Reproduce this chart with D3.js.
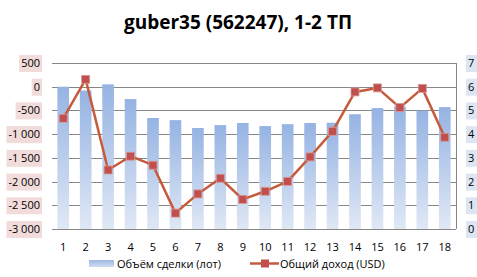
<!DOCTYPE html>
<html>
<head>
<meta charset="utf-8">
<script src="https://cdn.jsdelivr.net/npm/d3@7"></script>
<style>
  body { margin: 0; background: #fff; }
  #chart { width: 477px; height: 277px; }
  text { font-family: "Open Sans", "DejaVu Sans", sans-serif; }
</style>
</head>
<body>
<div id="chart"></div>
<script>
var titleText = "guber35 (562247), 1-2 ТП";
var categories = ["1","2","3","4","5","6","7","8","9","10","11","12","13","14","15","16","17","18"];
var volume = [0, -80, 50, -260, -660, -705, -870, -810, -765, -830, -790, -765, -760, -580, -450, -420, -505, -430];
var income = [4.67, 6.31, 2.49, 3.07, 2.69, 0.67, 1.48, 2.14, 1.25, 1.59, 2.01, 3.04, 4.12, 5.78, 5.95, 5.12, 5.93, 3.87];
var leftTicks = [500, 0, -500, -1000, -1500, -2000, -2500, -3000];
var rightTicks = [0, 1, 2, 3, 4, 5, 6, 7];
var seriesNames = ["Объём сделки (лот)", "Общий доход (USD)"];

function drawChart() {
    var divElement = document.getElementById("chart");
    var width = 477, height = 277;
    var left = 52, right = 456, top = 63, bottom = 229;

    var svg = d3.select(divElement).append("svg")
        .attr("width", width)
        .attr("height", height);

    var defs = svg.append("defs");
    var grad = defs.append("linearGradient")
        .attr("id", "barGrad")
        .attr("x1", 0).attr("y1", 0).attr("x2", 0).attr("y2", 1);
    grad.append("stop").attr("offset", "0%").attr("stop-color", "#95b3e3");
    grad.append("stop").attr("offset", "100%").attr("stop-color", "#e0e8f5");
    var legGrad = defs.append("linearGradient")
        .attr("id", "legGrad")
        .attr("x1", 0).attr("y1", 0).attr("x2", 0).attr("y2", 1);
    legGrad.append("stop").attr("offset", "0%").attr("stop-color", "#9db9e4");
    legGrad.append("stop").attr("offset", "100%").attr("stop-color", "#cfdcf1");

    var xScale = d3.scaleBand().domain(categories).range([left, right]).paddingInner(0.48).paddingOuter(0.24);
    var yLeft = d3.scaleLinear().domain([-3000, 500]).range([bottom, top]);
    var yRight = d3.scaleLinear().domain([0, 7]).range([bottom, top]);

    // title
    svg.append("text")
        .attr("x", 238).attr("y", 29)
        .attr("text-anchor", "middle")
        .style("font-size", "19px")
        .style("font-weight", "bold")
        .text(titleText);

    // gridlines
    svg.append("g").selectAll("line")
        .data(leftTicks)
        .join("line")
        .attr("x1", left).attr("x2", right)
        .attr("y1", function(d) { return Math.round(yLeft(d)) + 0.5; })
        .attr("y2", function(d) { return Math.round(yLeft(d)) + 0.5; })
        .attr("stroke", "#878787")
        .attr("stroke-width", 1);

    // bars start from the axis bottom
    svg.append("g").selectAll("rect")
        .data(volume)
        .join("rect")
        .attr("x", function(d, i) { return xScale(categories[i]); })
        .attr("width", xScale.bandwidth())
        .attr("y", function(d) { return yLeft(d); })
        .attr("height", function(d) { return bottom - yLeft(d); })
        .attr("fill", "url(#barGrad)");

    // right axis line
    svg.append("line")
        .attr("x1", right + 0.5).attr("x2", right + 0.5)
        .attr("y1", top).attr("y2", bottom)
        .attr("stroke", "#878787");

    // left tick labels with pink boxes
    var lt = svg.append("g").selectAll("g")
        .data(leftTicks)
        .join("g")
        .attr("transform", function(d) { return "translate(42," + yLeft(d) + ")"; });
    lt.each(function(d) {
        var g = d3.select(this);
        var label = d3.format(",")(d).replace(/,/g, " ").replace("−", "-");
        var t = g.append("text")
            .attr("x", -2).attr("y", 4)
            .attr("text-anchor", "end")
            .style("font-size", "11px")
            .attr("fill", "#000")
            .text(label);
        var bb = t.node().getBBox();
        g.insert("rect", "text")
            .attr("x", bb.x - 2).attr("y", -8)
            .attr("width", bb.width + 4).attr("height", 17)
            .attr("fill", "#f2dcdb");
    });

    // right tick labels with blue boxes
    var rt = svg.append("g").selectAll("g")
        .data(rightTicks)
        .join("g")
        .attr("transform", function(d) { return "translate(466," + yRight(d) + ")"; });
    rt.append("rect")
        .attr("x", 0).attr("y", -8)
        .attr("width", 11).attr("height", 17)
        .attr("fill", "#dce6f2");
    rt.append("text")
        .attr("x", 2).attr("y", 4)
        .style("font-size", "11px")
        .text(function(d) { return d; });

    // x labels
    svg.append("g").selectAll("text")
        .data(categories)
        .join("text")
        .attr("x", function(d) { return xScale(d) + xScale.bandwidth() / 2; })
        .attr("y", 251)
        .attr("text-anchor", "middle")
        .style("font-size", "11px")
        .text(function(d) { return d; });

    // income line
    var line = d3.line()
        .x(function(d, i) { return xScale(categories[i]) + xScale.bandwidth() / 2; })
        .y(function(d) { return yRight(d); });

    svg.append("path")
        .datum(income)
        .attr("d", line)
        .attr("fill", "none")
        .attr("stroke", "#c65b3c")
        .attr("stroke-width", 2.5)
        .attr("stroke-linejoin", "round");

    svg.append("g").selectAll("rect")
        .data(income)
        .join("rect")
        .attr("x", function(d, i) { return xScale(categories[i]) + xScale.bandwidth() / 2 - 4; })
        .attr("y", function(d) { return yRight(d) - 4; })
        .attr("width", 8).attr("height", 8)
        .attr("fill", "#c0504d")
        .attr("stroke", "#d99795")
        .attr("stroke-width", 0.8);

    // legend
    var leg = svg.append("g");
    leg.append("rect")
        .attr("x", 89).attr("y", 260)
        .attr("width", 25).attr("height", 7)
        .attr("fill", "url(#legGrad)");
    leg.append("text")
        .attr("x", 117).attr("y", 268)
        .style("font-size", "11px")
        .text(seriesNames[0]);
    leg.append("line")
        .attr("x1", 250).attr("x2", 279)
        .attr("y1", 263.5).attr("y2", 263.5)
        .attr("stroke", "#c65b3c").attr("stroke-width", 2.5);
    leg.append("rect")
        .attr("x", 261).attr("y", 259.5)
        .attr("width", 8).attr("height", 8)
        .attr("fill", "#c0504d");
    leg.append("text")
        .attr("x", 280).attr("y", 268)
        .style("font-size", "11px")
        .text(seriesNames[1]);
}

drawChart();
</script>
</body>
</html>
